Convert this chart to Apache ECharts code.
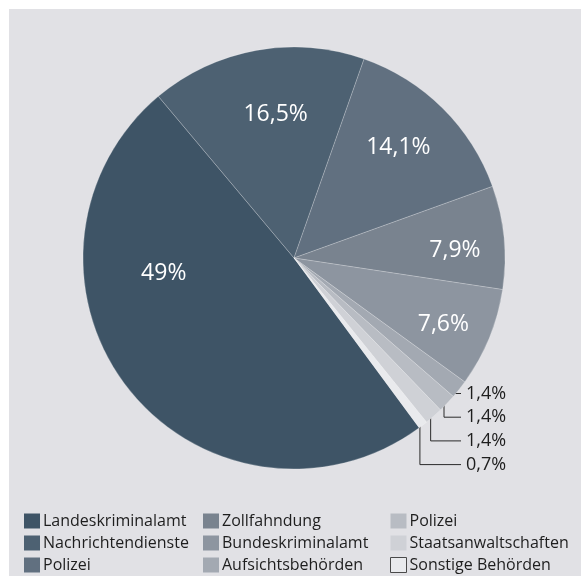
<!DOCTYPE html>
<html>
<head>
<meta charset="utf-8">
<script src="https://cdn.jsdelivr.net/npm/echarts@6/dist/echarts.min.js"></script>
<style>
  html, body { margin: 0; padding: 0; background: #ffffff; }
  #chart { width: 581px; height: 579px; }
</style>
</head>
<body>
<div id="chart"></div>
<script>
// Anteile nach Behörde (in Prozent)
const categories = [
  'Landeskriminalamt', 'Nachrichtendienste', 'Polizei',
  'Zollfahndung', 'Bundeskriminalamt', 'Aufsichtsbehörden',
  'Polizei', 'Staatsanwaltschaften', 'Sonstige Behörden'
];
const shares = [49, 16.5, 14.1, 7.9, 7.6, 1.4, 1.4, 1.4, 0.7];
const colors = [
  '#3e5466', '#4d6172', '#617080',
  '#79838f', '#8d95a0', '#a3a9b2',
  '#b8bcc3', '#cfd1d6', '#e9eaed'
];

// Legend columns (indices into categories)
const legendColumns = [[0, 1, 2], [3, 4, 5], [6, 7, 8]];
const legendLeft = [24, 203, 390];

// Unique item names so that both "Polizei" entries keep their own colour
const itemNames = categories.map((c, i) => categories.indexOf(c) === i ? c : c + ' (' + i + ')');
const stripSuffix = (n) => n.replace(/\s\(\d+\)$/, '');

const FONT = '"Open Sans", "Noto Sans", sans-serif';

// Shares below this value get an outside label with an elbow line
const SMALL = 2;

// Nudges for the inner percentage labels
const innerOffsets = {
  0: [-45, -52],
  1: [1, -37],
  2: [28, -34],
  3: [53, 3],
  4: [49, 25]
};

const fmtPct = (v) => String(v).replace('.', ',') + '%';

const data = shares.map((v, i) => {
  const item = {
    name: itemNames[i],
    value: v,
    itemStyle: { color: colors[i] }
  };
  if (v < SMALL) {
    item.label = {
      show: true,
      position: 'outside',
      color: '#1e1e1e',
      fontSize: 18,
      fontFamily: FONT
    };
    item.labelLine = {
      show: true,
      length: 6,
      length2: 6,
      lineStyle: { color: '#2a2a2a', width: 1 }
    };
  } else {
    item.label = { offset: innerOffsets[i] || [0, 0] };
  }
  return item;
});

const chart = echarts.init(document.getElementById('chart'), null, { renderer: 'canvas' });

const smallIdx = shares.map((v, i) => v < SMALL ? i : -1).filter(i => i >= 0);
const smallLabelTop = 393.5;
const smallLabelGap = 23.7;
const smallLabelX = 466;
const smallLineEnd = 461;

const legends = legendColumns.map((col, c) => ({
  orient: 'vertical',
  left: legendLeft[c],
  top: 513,
  height: 120,
  width: 200,
  padding: 0,
  itemWidth: 16,
  itemHeight: 15,
  itemGap: 6,
  icon: 'rect',
  selectedMode: false,
  itemStyle: { borderWidth: 0 },
  textStyle: { fontFamily: FONT, fontSize: 16, color: '#1e1e1e', padding: [0, 0, 0, -2] },
  formatter: stripSuffix,
  data: col.map(i => {
    const d = { name: itemNames[i] };
    if (i === categories.length - 1) {
      d.itemStyle = { borderColor: '#4a4a4a', borderWidth: 1 };
    }
    return d;
  })
}));

chart.setOption({
  animation: false,
  graphic: [{
    type: 'rect',
    z: 0,
    silent: true,
    shape: { x: 9, y: 9, width: 572, height: 567 },
    style: { fill: '#e1e1e5' }
  }],
  legend: legends,
  series: [{
    type: 'pie',
    z: 2,
    center: [294, 258],
    radius: [0, 211],
    startAngle: -53.6,
    clockwise: true,
    avoidLabelOverlap: false,
    itemStyle: { borderColor: 'rgba(255,255,255,0.35)', borderWidth: 0.6 },
    label: {
      show: true,
      position: 'inside',
      color: '#ffffff',
      fontSize: 23,
      fontFamily: FONT,
      formatter: (p) => fmtPct(p.value)
    },
    labelLine: { show: false },
    labelLayout: (params) => {
      const k = smallIdx.indexOf(params.dataIndex);
      if (k < 0 || !params.labelLinePoints) return {};
      const start = params.labelLinePoints[0];
      const ly = smallLabelTop + k * smallLabelGap;
      const pts = Math.abs(ly - start[1]) < 8
        ? [[start[0] - 6, ly], [smallLineEnd, ly]]
        : [[start[0] - 3, start[1]], [start[0] - 3, ly], [smallLineEnd, ly]];
      return {
        x: smallLabelX,
        y: ly,
        align: 'left',
        verticalAlign: 'middle',
        labelLinePoints: pts
      };
    },
    data: data
  }]
});
</script>
</body>
</html>
